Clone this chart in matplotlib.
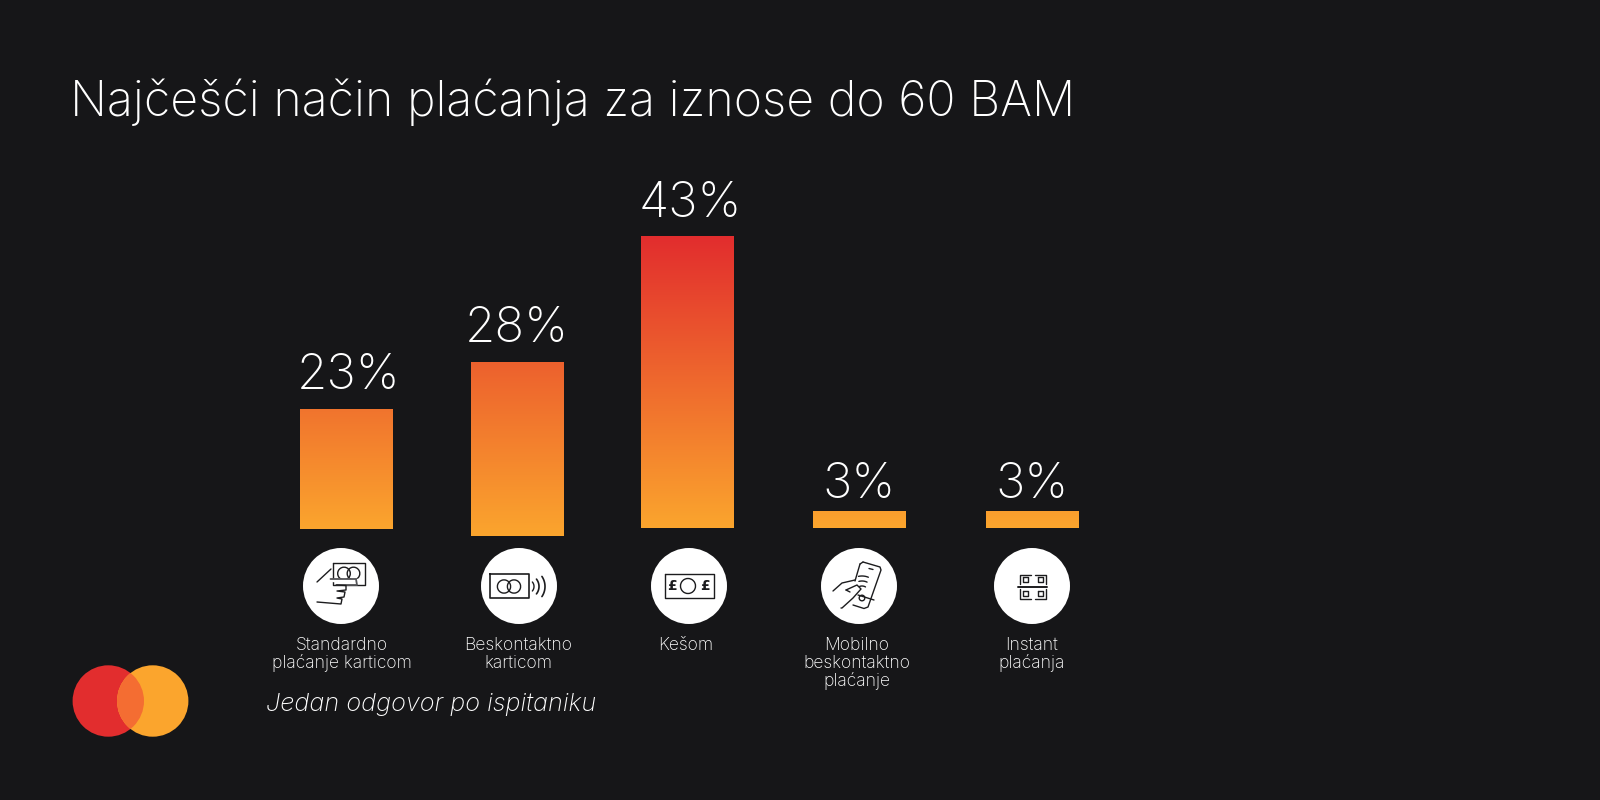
import matplotlib
matplotlib.use("Agg")
import matplotlib.pyplot as plt
import numpy as np
from matplotlib.colors import LinearSegmentedColormap
from matplotlib.patches import Arc, Ellipse, Rectangle

# chart data
categories = ["Standardno\nplaćanje karticom", "Beskontaktno\nkarticom", "Kešom",
              "Mobilno\nbeskontaktno\nplaćanje", "Instant\nplaćanja"]
shown_percent = [23, 28, 43, 3, 3]
# bar lengths as drawn, they are not proportional to the labels in the original
drawn_heights = [17.6, 25.5, 43, 2.5, 2.5]
drawn_bottoms = [-0.15, -1.2, 0, 0, 0]

title = "Najčešći način plaćanja za iznose do 60 BAM"
note = "Jedan odgovor po ispitaniku"

# colours
bg = "#161618"
ink = "#1c1c1e"
orange = "#fba52d"
red = "#e22d2e"
overlap = "#f46d32"

font = "Inter"
px_per_unit = 6.79
baseline_px = 528
bar_width = 93

fig = plt.figure(figsize=(16, 8), dpi=100, facecolor=bg)

# one axes over the whole figure: x in pixels, y in bar units
ax = fig.add_axes([0, 0, 1, 1])
ax.set_facecolor(bg)
ax.axis("off")

bar_centers = [346, 517.5, 687.5, 859, 1032.5]
circle_centers = [341, 519, 689, 859, 1032]
percent_centers = [348.5, 517, 690, 859, 1032]
percent_ys = [389, 342.5, 217, 498.5, 498.5]
name_centers = [341.5, 518, 686, 857, 1032]

cmap = LinearSegmentedColormap.from_list("bars", [orange, red])
grad = np.linspace(1, 0, 256).reshape(-1, 1)
ylim = (-(800 - baseline_px) / px_per_unit, baseline_px / px_per_unit)


def y_of(py):
    return (baseline_px - py) / px_per_unit


# gradient bars, same colour scale for all of them
bars = ax.bar(bar_centers, drawn_heights, width=bar_width, bottom=drawn_bottoms,
              color="none", linewidth=0)
for bar in bars:
    x0, y0 = bar.get_x(), bar.get_y()
    x1, y1 = x0 + bar.get_width(), y0 + bar.get_height()
    ax.imshow(grad[int(255 * (1 - y1 / 43)):], extent=(x0, x1, y0, y1), cmap=cmap,
              vmin=0, vmax=1, aspect="auto", zorder=2)
ax.set_xlim(0, 1600)
ax.set_ylim(*ylim)

# percent labels
for x, py, val in zip(percent_centers, percent_ys, shown_percent):
    ax.text(x, y_of(py), f"{val}%", color="white", ha="center", va="baseline",
            fontsize=35.5, family=font, weight="light")

ax.text(69.5, y_of(115.5), title, color="white", ha="left", va="baseline", fontsize=34.75,
        family=font, weight="light")
ax.text(266, y_of(710.5), note, color="white", ha="left", va="baseline", fontsize=18.2,
        family=font, weight="light", style="italic")

# category names
for x, cat in zip(name_centers, categories):
    for i, line in enumerate(cat.split("\n")):
        ax.text(x, y_of(650 + i * 18), line, color="white", ha="center", va="baseline",
                fontsize=12.6, family=font, weight="light")


def px_line(pts, lw=1.0, color=ink):
    xs = [p[0] for p in pts]
    ys = [y_of(p[1]) for p in pts]
    ax.plot(xs, ys, color=color, lw=lw, solid_capstyle="round", solid_joinstyle="round", zorder=5)


def ell(cx, cy, r, lw=1.0):
    ax.add_patch(Arc((cx, y_of(cy)), 2 * r, 2 * r / px_per_unit, lw=lw, color=ink, zorder=5))


def arc(cx, cy, r, a0, a1, lw=1.0):
    t = np.radians(np.linspace(a0, a1, 30))
    px_line(list(zip(cx + r * np.cos(t), cy - r * np.sin(t))), lw=lw)


def box(x0, y0, x1, y1, lw=1.0):
    px_line([(x0, y0), (x1, y0), (x1, y1), (x0, y1), (x0, y0)], lw=lw)


# white icon discs
for x in circle_centers:
    ax.add_patch(Ellipse((x, y_of(586)), 76, 76 / px_per_unit, color="white", lw=0, zorder=4))

# card in hand
box(333, 563, 365, 585)
ell(344, 573.5, 6.3)
ell(353.5, 573.5, 6.3)
ax.add_patch(Rectangle((332, y_of(581)), 30, 2 / px_per_unit, color="white", zorder=5))
px_line([(330.5, 579), (356, 579), (357, 585), (337, 585)], lw=1.3, color="#555558")
px_line([(317, 582), (331, 569)])
px_line([(336, 585), (346, 585.5), (346, 590), (337, 591), (345, 592), (344, 597), (337, 598),
         (342, 599), (341, 604), (317, 602)])

# contactless card
box(490, 574, 529, 598, lw=1.2)
ell(504, 586.5, 6.6)
ell(514, 586.5, 6.6)
arc(527, 586.5, 7, -40, 40)
arc(527, 586.5, 12, -38, 38, lw=1.2)
arc(527, 586.5, 18, -34, 34, lw=1.2)

# banknote
box(664.5, 573.5, 713.5, 598)
ell(688, 586, 7.5)
for x in (672, 704.5):
    ax.text(x, y_of(586), "£", color=ink, ha="center", va="center", fontsize=10,
            family="DejaVu Sans", weight="bold", zorder=6)

# phone with hand
px_line([(863, 562), (880, 567), (881, 570), (868, 607), (864, 608.5), (853, 605)])
px_line([(860, 564), (863, 562)])
px_line([(860, 564), (855, 581)])
px_line([(869, 568.5), (873, 569.5)])
px_line([(858, 595), (874, 600)])
ell(862, 598, 2.8)
arc(862, 593, 7, 60, 110)
arc(862, 593, 12, 65, 105)
arc(862, 593, 17, 68, 102)
px_line([(833, 591), (842, 583), (855, 580)])
px_line([(846, 590), (857, 585), (861, 589), (853, 598), (842, 608), (841, 608)])
px_line([(846, 590), (850, 592)])

# qr code
px_line([(1017.5, 586.5), (1047, 586.5)], lw=1.4)
box(1023, 577, 1028, 582)
box(1038, 577, 1043, 582)
box(1023, 591, 1028, 596)
box(1038, 591, 1043, 596)
px_line([(1020, 584), (1020, 575), (1031, 575)])
px_line([(1035, 575), (1046, 575), (1046, 584)])
px_line([(1020, 589), (1020, 599), (1031, 599)])
px_line([(1035, 599), (1046, 599), (1046, 589)])

# logo
logo_y = y_of(701)
logo_h = 71.4 / px_per_unit
ax.add_patch(Ellipse((108.3, logo_y), 71.4, logo_h, color=red, lw=0, zorder=3))
ax.add_patch(Ellipse((152.7, logo_y), 71.4, logo_h, color=orange, lw=0, zorder=3))
both = Ellipse((152.7, logo_y), 71.4, logo_h, color=overlap, lw=0, zorder=4)
ax.add_patch(both)
both.set_clip_path(Ellipse((108.3, logo_y), 71.4, logo_h, transform=ax.transData))

fig.savefig("out.png", dpi=100, facecolor=bg)
